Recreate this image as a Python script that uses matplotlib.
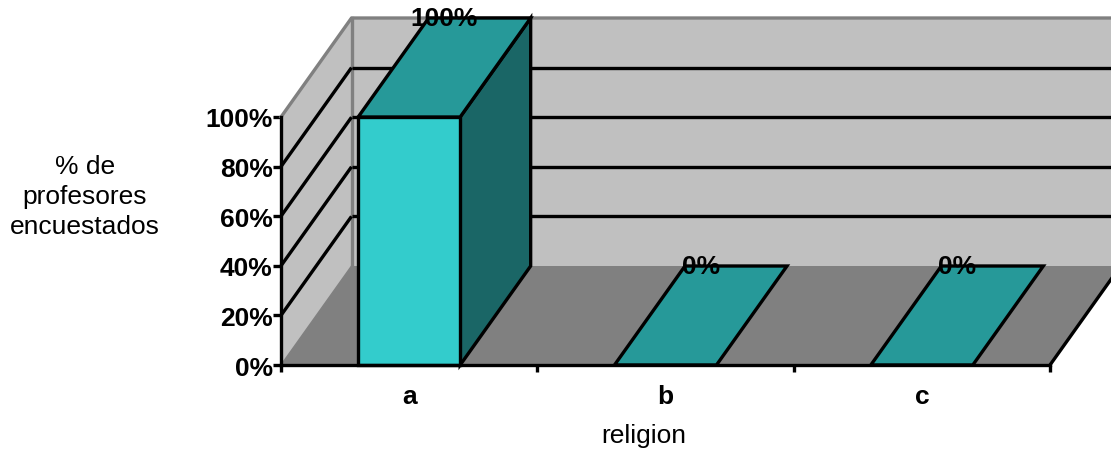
#!/usr/bin/env python3
"""Fake 3D column chart: % de profesores encuestados by religion."""

import matplotlib
matplotlib.use("Agg")
import matplotlib.pyplot as plt
from matplotlib.patches import Polygon

categories = ["a", "b", "c"]
values = [100, 0, 0]
value_labels = ["100%", "0%", "0%"]
y_ticks = [0, 20, 40, 60, 80, 100]
y_tick_labels = ["0%", "20%", "40%", "60%", "80%", "100%"]

WIDTH, HEIGHT = 1111, 456
LEFT, RIGHT, BOTTOM, TOP = 281, 1050, 366, 118  # front plane, in pixels

# depth offset of the back wall, in data units
DX = 70.5 / ((RIGHT - LEFT) / 3)
DY = 99 / (BOTTOM - TOP) * 100
BAR_W = 102 / ((RIGHT - LEFT) / 3)

LW = 2.4
WALL = "#c0c0c0"
FLOOR = "#808080"
EDGE = "#808080"

plt.rcParams["font.family"] = ["Liberation Sans", "DejaVu Sans"]
FS = 19


def poly(ax, pts, color, edge="none", z=1, lw=LW):
    ax.add_patch(Polygon(pts, closed=True, facecolor=color, edgecolor=edge,
                         linewidth=lw, zorder=z, clip_on=False,
                         joinstyle="miter"))


def draw_walls(ax):
    n = len(categories)
    # back wall, left wall, floor
    poly(ax, [(DX, DY), (n + DX, DY), (n + DX, 100 + DY), (DX, 100 + DY)], WALL)
    poly(ax, [(0, 0), (DX, DY), (DX, 100 + DY), (0, 100)], WALL)
    poly(ax, [(0, 0), (n, 0), (n + DX, DY), (DX, DY)], FLOOR)

    # grey frame of the walls
    ax.plot([0, DX, n + DX], [100, 100 + DY, 100 + DY], color=EDGE, lw=LW,
            zorder=2, clip_on=False)
    ax.plot([DX, DX], [DY, 100 + DY], color=EDGE, lw=LW, zorder=2, clip_on=False)
    ax.plot([0, DX], [0, DY], color=EDGE, lw=1.0, zorder=2, clip_on=False)

    # gridlines on both walls, the top one is the grey frame
    for t in y_ticks[1:-1]:
        ax.plot([0, DX], [t, t + DY], color="black", lw=LW, zorder=3,
                clip_on=False, solid_capstyle="butt")
        ax.plot([DX, n + DX], [t + DY, t + DY], color="black", lw=LW,
                zorder=3, clip_on=False, solid_capstyle="butt")
    # right edge of the floor
    ax.plot([n, n + DX], [0, DY], color="black", lw=LW, zorder=3, clip_on=False)


def draw_bars(ax):
    for i, (v, label) in enumerate(zip(values, value_labels)):
        x0 = i + 0.5 - BAR_W / 2
        x1 = i + 0.5 + BAR_W / 2
        if v > 0:
            poly(ax, [(x1, 0), (x1 + DX, DY), (x1 + DX, v + DY), (x1, v)],
                 "#1a6666", "black", 4)
            poly(ax, [(x0, 0), (x1, 0), (x1, v), (x0, v)], "#33cccc", "black", 5)
        poly(ax, [(x0, v), (x1, v), (x1 + DX, v + DY), (x0 + DX, v + DY)],
             "#269999", "black", 5)
        ax.text(i + 0.5 + DX / 2, v + DY, label, ha="center", va="center",
                fontsize=FS, fontweight="bold", color="black", zorder=7,
                clip_on=False)


def main():
    fig = plt.figure(figsize=(WIDTH / 100, HEIGHT / 100), dpi=100)
    ax = fig.add_axes([LEFT / WIDTH, 1 - BOTTOM / HEIGHT,
                       (RIGHT - LEFT) / WIDTH, (BOTTOM - TOP) / HEIGHT])
    ax.set_xlim(0, len(categories))
    ax.set_ylim(0, 100)
    ax.patch.set_visible(False)

    draw_walls(ax)
    draw_bars(ax)

    for side in ("top", "right"):
        ax.spines[side].set_visible(False)
    for side in ("left", "bottom"):
        ax.spines[side].set_linewidth(LW)
        ax.spines[side].set_zorder(6)

    ax.set_yticks(y_ticks)
    ax.set_yticklabels(y_tick_labels, fontsize=FS, fontweight="bold")
    ax.tick_params(axis="y", length=6, width=LW, pad=0)

    ax.set_xticks(range(len(categories) + 1))
    ax.set_xticklabels([])
    ax.tick_params(axis="x", which="major", length=5, width=LW)
    ax.set_xticks([i + 0.5 for i in range(len(categories))], minor=True)
    ax.set_xticklabels(categories, minor=True, fontsize=FS, fontweight="bold")
    ax.tick_params(axis="x", which="minor", length=0, pad=14)

    ax.set_xlabel("religion", fontsize=FS)
    ax.xaxis.set_label_coords((644 - LEFT) / (RIGHT - LEFT),
                              (BOTTOM - 436) / (BOTTOM - TOP))
    ax.xaxis.label.set_va("center")
    ax.set_ylabel("% de\nprofesores\nencuestados", fontsize=FS, rotation=0,
                  ha="center", va="center", linespacing=1.33)
    ax.yaxis.set_label_coords((85 - LEFT) / (RIGHT - LEFT),
                              (BOTTOM - 197) / (BOTTOM - TOP))

    fig.savefig("out.png", dpi=100)


if __name__ == "__main__":
    main()
